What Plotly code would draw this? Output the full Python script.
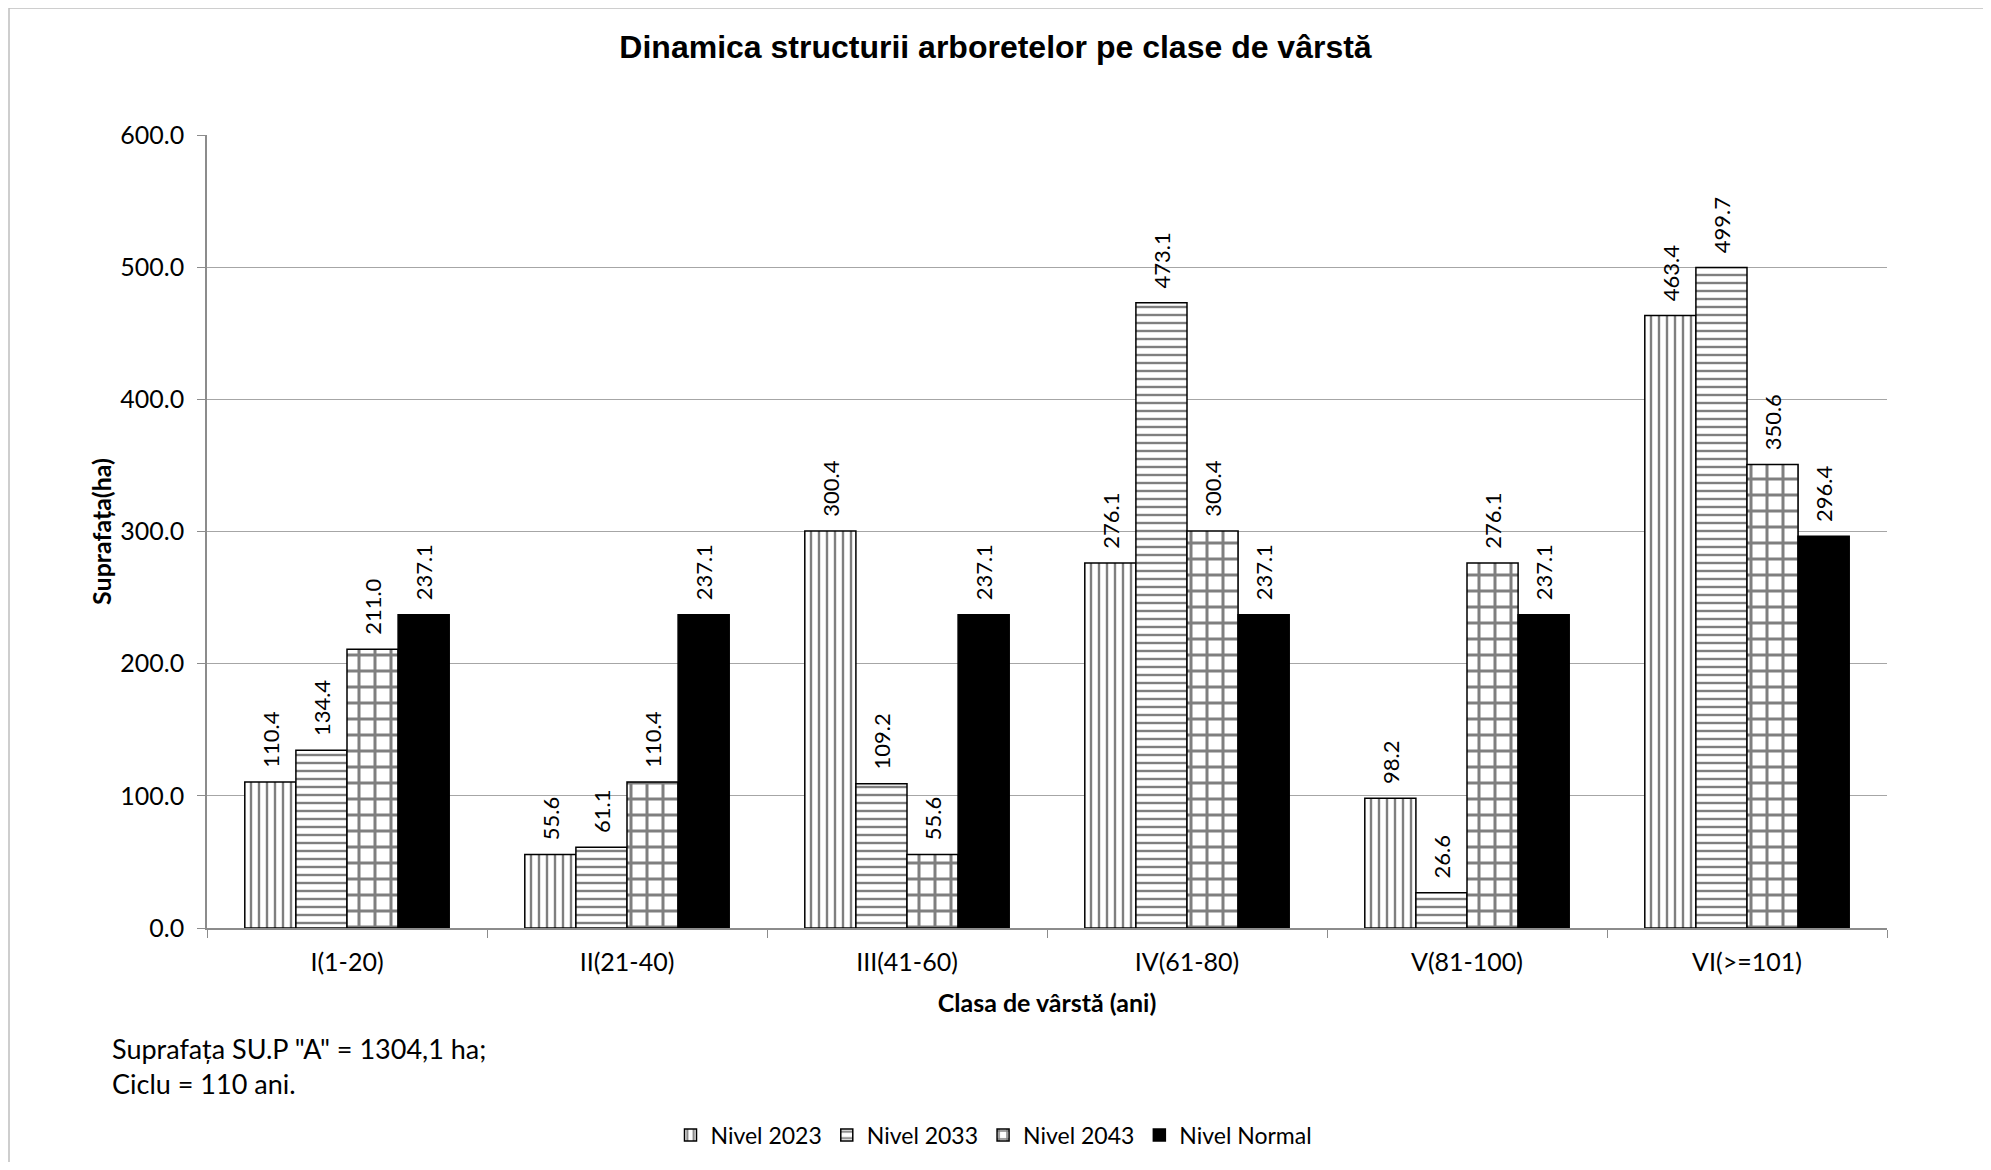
import plotly.graph_objects as go

categories = ["I(1-20)", "II(21-40)", "III(41-60)", "IV(61-80)", "V(81-100)", "VI(>=101)"]
nivel_2023 = [110.4, 55.6, 300.4, 276.1, 98.2, 463.4]
nivel_2033 = [134.4, 61.1, 109.2, 473.1, 26.6, 499.7]
nivel_2043 = [211.0, 110.4, 55.6, 300.4, 276.1, 350.6]
nivel_normal = [237.1, 237.1, 237.1, 237.1, 237.1, 296.4]
series_names = ["Nivel 2023", "Nivel 2033", "Nivel 2043", "Nivel Normal"]
y_ticks = [0, 100, 200, 300, 400, 500, 600]

# page body has an 8px margin; compensate so the figure lands where the reference is
O = 8
W, H = 1991 - 2 * O, 1170 - 2 * O
L, R, T, B = 207 - O, 104 - O, 135 - O, 242 - O
pw, ph = W - L - R, H - T - B


def px_x(x):
    return (x - O - L) / pw


def px_y(y):
    return 1 - (y - O - T) / ph


FONT = "Lato, 'Open Sans', sans-serif"

fig = go.Figure()
styles = [
    dict(shape="|", size=8, solidity=0.3),
    dict(shape="-", size=8, solidity=0.3),
    dict(shape="+", size=16, solidity=0.34),
    None,
]
for name, vals, st in zip(series_names, [nivel_2023, nivel_2033, nivel_2043, nivel_normal], styles):
    if st:
        marker = dict(color="white",
                      pattern=dict(shape=st["shape"], fgcolor="black", bgcolor="white",
                                   size=st["size"], solidity=st["solidity"], fillmode="overlay"),
                      line=dict(color="black", width=1.5))
    else:
        marker = dict(color="black", line=dict(color="black", width=1.5))
    fig.add_trace(go.Bar(
        x=categories, y=vals, name=name, marker=marker,
        text=["\u00a0\u00a0" + f"{v:.1f}" for v in vals], textposition="outside", textangle=-90,
        constraintext="none",
        textfont=dict(family=FONT, size=22, color="black"), cliponaxis=False,
    ))

fig.update_layout(
    width=W, height=H,
    margin=dict(l=L, r=R, t=T, b=B, autoexpand=False),
    paper_bgcolor="white", plot_bgcolor="white",
    barmode="group", bargap=0.27, bargroupgap=0,
    title=dict(text="<b>Dinamica structurii arboretelor pe clase de vârstă</b>",
               x=0.5, xanchor="center", y=1 - (47 - O) / H, yanchor="middle",
               font=dict(family="'Liberation Sans', Arial, sans-serif", size=32, color="black")),
    font=dict(family=FONT, color="black"),
    legend=dict(orientation="h", x=px_x(994), xanchor="center", y=px_y(1135), yanchor="middle",
                font=dict(family=FONT, size=23, color="black"), traceorder="normal",
                itemwidth=30),
)
fig.update_xaxes(
    type="category", showline=True, linecolor="#8c8c8c", linewidth=1.5,
    ticks="outside", tickson="boundaries", ticklen=8, tickcolor="#8c8c8c",
    ticklabelstandoff=11, automargin=False,
    tickfont=dict(family=FONT, size=25, color="black"),
    title=dict(text="<b>Clasa de vârstă (ani)</b>", font=dict(family=FONT, size=25, color="black"), standoff=20),
    showgrid=False,
)
fig.update_yaxes(
    range=[0, 600], tickvals=y_ticks, ticktext=[f"{v:.1f}" for v in y_ticks],
    showline=True, linecolor="#8c8c8c", linewidth=1.5,
    ticks="outside", ticklen=8, tickcolor="#8c8c8c",
    ticklabelstandoff=8, automargin=False,
    showgrid=True, gridcolor="#a6a6a6", gridwidth=1.2,
    tickfont=dict(family=FONT, size=25, color="black"),
    title=dict(text="<b>Suprafața(ha)</b>", font=dict(family=FONT, size=25, color="black"), standoff=2),
    zeroline=False,
)

fig.add_annotation(text='Suprafața SU.P "A" = 1304,1 ha;<br>Ciclu = 110 ani.',
                   xref="paper", yref="paper", x=px_x(110), y=px_y(1066),
                   xanchor="left", yanchor="middle", align="left", showarrow=False,
                   font=dict(family=FONT, size=27, color="black"))

# outer chart border
fig.add_shape(type="rect", xref="paper", yref="paper",
              x0=px_x(9), x1=px_x(1986), y0=px_y(1168), y1=px_y(8),
              line=dict(color="#bfbfbf", width=1.5), fillcolor="rgba(0,0,0,0)", layer="below")

fig.write_html("out.html")
